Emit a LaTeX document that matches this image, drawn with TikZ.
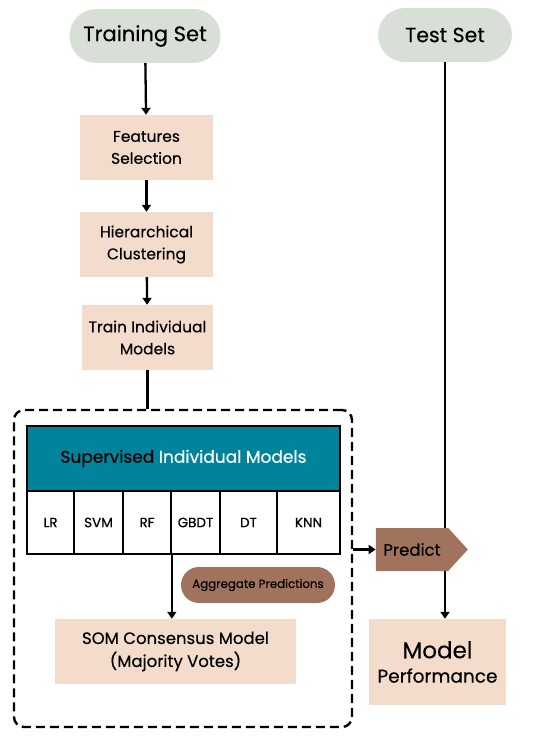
\documentclass[tikz,border=0pt]{standalone}
\usepackage{fontspec}
\setmainfont{Poppins}[FakeBold=0.35]
\usetikzlibrary{arrows.meta,shapes.symbols}
\definecolor{pillgray}{HTML}{D8DFD6}
\definecolor{peach}{HTML}{F3DCCB}
\definecolor{tealhead}{HTML}{00839B}
\definecolor{brownish}{HTML}{A2735C}
\begin{document}
\begin{tikzpicture}[x=1pt,y=-1pt,
        pill/.style={rectangle, fill=pillgray, rounded corners=27pt, minimum height=54pt, font=\fontsize{21}{24}\selectfont},
        stepbox/.style={rectangle, fill=peach, minimum width=133pt, minimum height=65pt, align=center, font=\fontsize{15.5}{22}\selectfont},
        cell/.style={rectangle, draw, line width=1.6pt, fill=white, minimum height=63pt, font=\fontsize{13.5}{15}\selectfont},
        flow/.style={line width=2.3pt, -{Triangle[width=9pt,length=7pt]}},
        plain/.style={line width=2.3pt}
    ]
        \useasboundingbox (0,0) rectangle (550,738);

        \node[pill, minimum width=151pt] (train) at (145,36) {Training Set};
        \node[pill, minimum width=134pt, font=\fontsize{20.5}{24}\selectfont] (test) at (445,35) {Test Set};

        \node[stepbox] (feat) at (146.5,147.5) {Features\\Selection};
        \node[stepbox] (clust) at (146.5,244.5) {Hierarchical\\Clustering};
        \node[stepbox, minimum width=131pt] (train models) at (147.5,337.5) {Train Individual\\Models};

        % ensemble block
        \node[draw, dashed, dash pattern=on 9pt off 5pt, line width=2.4pt, rounded corners=10pt,
              minimum width=338pt, minimum height=317pt] (group) at (183,568.5) {};
        \node[draw, line width=1.8pt, fill=tealhead, minimum width=313pt, minimum height=65pt,
              font=\fontsize{17}{19}\selectfont] (head) at (183.5,458.5)
              {Supervised \textcolor{white}{Individual Models}};

        \node[cell, minimum width=47pt] (lr) at (50.5,522.5) {LR};
        \node[cell, minimum width=49pt] (svm) at (98.5,522.5) {SVM};
        \node[cell, minimum width=48pt] (rf) at (147,522.5) {RF};
        \node[cell, minimum width=49pt] (gbdt) at (195.5,522.5) {GBDT};
        \node[cell, minimum width=57pt] (dt) at (248.5,522.5) {DT};
        \node[cell, minimum width=63pt] (knn) at (308.5,522.5) {KNN};

        \node[rectangle, fill=brownish, rounded corners=18pt, minimum width=154pt, minimum height=36pt,
              font=\fontsize{11.8}{13}\selectfont] (agg) at (258,585) {Aggregate Predictions};
        \node[stepbox, minimum width=241pt, font=\fontsize{16.5}{23}\selectfont] (som) at (175.5,651.5)
              {SOM Consensus Model\\(Majority Votes)};

        % test side
        \node[signal, signal to=east, signal pointer angle=95, fill=brownish, minimum width=92pt,
              minimum height=43pt, inner sep=0pt, font=\fontsize{16.5}{18}\selectfont] (predict) at (412,549.5) {Predict};
        \node[rectangle, fill=peach, minimum width=137pt, minimum height=86pt, align=center] (perf) at (437.5,662)
              {{\fontsize{23}{23}\selectfont Model}\\[9pt]{\fontsize{18.5}{20}\selectfont Performance}};

        \draw[flow] (train) -- (feat);
        \draw[flow] (feat) -- (clust);
        \draw[flow] (clust) -- (train models);
        \draw[plain] (train models) -- (group.north -| train models);
        \draw[flow] (rf.south east) -- (som.north -| rf.south east);
        \draw[flow] (group.east |- predict.west) -- (predict.west);
        \draw[plain] (test) -- (test |- predict.north);
        \draw[flow] (test |- predict.south) -- (perf.north -| test);
    \end{tikzpicture}
\end{document}
